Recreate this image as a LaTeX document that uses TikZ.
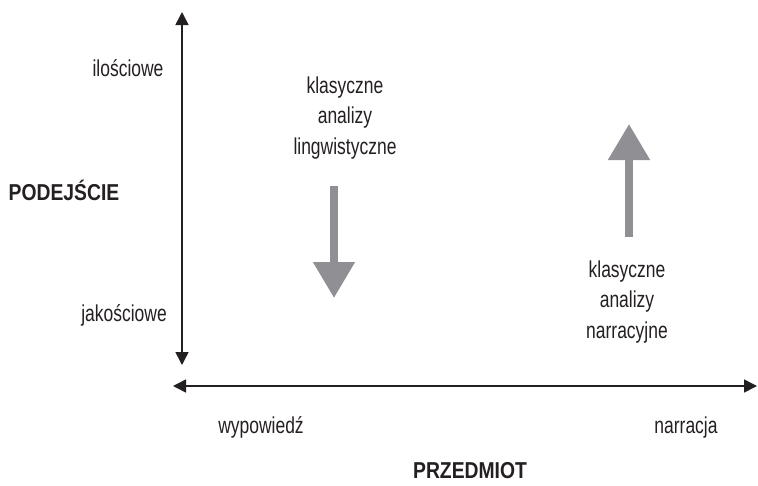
\documentclass[tikz,border=0pt]{standalone}
\usepackage{fontspec}
\setmainfont{Liberation Sans}[FakeStretch=0.76]
\newfontfamily\titlefont{Liberation Sans}[FakeStretch=0.84]
\usepackage{tikz}
\usetikzlibrary{arrows.meta}
\definecolor{ink}{rgb}{0.14, 0.12, 0.13}
\definecolor{arrowgray}{rgb}{0.56, 0.56, 0.58}
\tikzstyle{every label node}=[text=ink,font=\fontsize{23}{30.5}\selectfont,align=center,inner sep=0pt]
\tikzstyle{axis title}=[text=ink,font=\titlefont\fontsize{23}{26}\selectfont\bfseries,inner sep=0pt]
\tikzstyle{axis line}=[draw=ink,line width=1.5pt,{Triangle[length=13pt,width=13pt]}-{Triangle[length=13pt,width=13pt]}]
\tikzstyle{fat arrow}=[draw=arrowgray,line width=8pt,-{Triangle[length=36pt,width=40pt]}]

\begin{document}
\begin{tikzpicture}[x=1pt,y=-1pt]
\useasboundingbox (0,0) rectangle (758,485);

  \coordinate (vtop) at (182,12);
  \coordinate (vbot) at (182,365);
  \coordinate (hleft) at (173,386);
  \coordinate (hright) at (757,386);

  \draw [axis line] (vbot) -- (vtop);
  \draw [axis line] (hleft) -- (hright);

  \coordinate (downstart) at (334,186);
  \coordinate (downend) at (334,298);
  \coordinate (upstart) at (629,237);
  \coordinate (upend) at (629,124);

  \draw [fat arrow] (downstart) -- (downend);
  \draw [fat arrow] (upstart) -- (upend);

  \node [every label node, anchor=base] (ilosc) at (128,76) {ilościowe};
  \node [every label node, anchor=base] (jakosc) at (124,321) {jakościowe};
  \node [axis title] (podejscie) at (64,190) {PODEJŚCIE};

  \node [every label node] (lingw) at (345,118) {klasyczne\\analizy\\lingwistyczne};
  \node [every label node] (narr) at (627,302) {klasyczne\\analizy\\narracyjne};

  \node [every label node, anchor=base] (wypow) at (261,433) {wypowiedź};
  \node [every label node, anchor=base] (narracja) at (686,433) {narracja};
  \node [axis title] (przedmiot) at (470,471) {PRZEDMIOT};

\end{tikzpicture}
\end{document}
